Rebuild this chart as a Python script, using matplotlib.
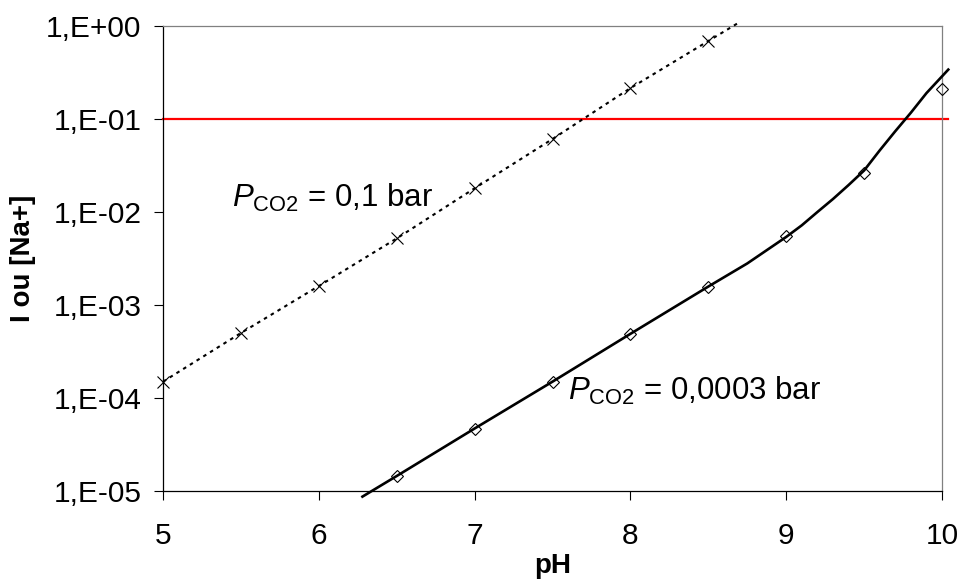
import numpy as np
import matplotlib
matplotlib.use('Agg')
import matplotlib.pyplot as plt
from matplotlib.ticker import FixedLocator, FixedFormatter

plt.rcParams['font.family'] = 'Liberation Sans'
plt.rcParams['mathtext.fontset'] = 'custom'
plt.rcParams['mathtext.rm'] = 'Liberation Sans'
plt.rcParams['mathtext.it'] = 'Liberation Sans:italic'

# measured points (markers)
ph_pts_01 = [5.0, 5.5, 6.0, 6.5, 7.0, 7.5, 8.0, 8.5]
na_pts_01 = [1.5e-4, 5.0e-4, 1.6e-3, 5.2e-3, 1.8e-2, 6.1e-2, 2.15e-1, 6.9e-1]

ph_pts_0003 = [6.5, 7.0, 7.5, 8.0, 8.5, 9.0, 9.5, 10.0]
na_pts_0003 = [1.45e-5, 4.7e-5, 1.5e-4, 4.9e-4, 1.56e-3, 5.5e-3, 2.6e-2, 2.1e-1]

# model curves
ph_curve_01 = [5.0, 5.5, 6.0, 6.5, 7.0, 7.5, 8.0, 8.5, 8.7]
na_curve_01 = [1.5e-4, 5.0e-4, 1.6e-3, 5.2e-3, 1.8e-2, 6.1e-2, 2.15e-1, 6.9e-1, 1.1]

ph_curve_0003 = [6.28, 6.5, 7.0, 7.5, 8.0, 8.5, 8.75, 9.0, 9.1, 9.2, 9.3, 9.4,
                 9.5, 9.6, 9.7, 9.8, 9.9, 10.04]
na_curve_0003 = [8.7e-6, 1.45e-5, 4.7e-5, 1.5e-4, 4.9e-4, 1.58e-3, 2.8e-3, 5.4e-3,
                 7.2e-3, 1.0e-2, 1.38e-2, 1.95e-2, 2.8e-2, 4.6e-2, 7.4e-2, 1.17e-1,
                 1.9e-1, 3.4e-1]

limit_value = 0.1

x_ticks = [5, 6, 7, 8, 9, 10]
y_ticks = [1e-5, 1e-4, 1e-3, 1e-2, 1e-1, 1e0]
y_tick_labels = ['1,E-05', '1,E-04', '1,E-03', '1,E-02', '1,E-01', '1,E+00']

fig = plt.figure(figsize=(9.6, 5.81), dpi=100)
ax = fig.add_axes([0.1698, 0.1549, 0.8115, 0.8003])

ax.set_yscale('log')
ax.set_xlim(5, 10)
ax.set_ylim(1e-5, 1)

ax.plot([5, 10.04], [limit_value, limit_value], color='#ff0000', lw=1.6, clip_on=False, zorder=2)

ax.plot(ph_curve_01, na_curve_01, color='black', lw=1.5, linestyle=(0, (1.7, 2.1)),
        clip_on=False, zorder=3)
ax.plot(ph_curve_0003, na_curve_0003, color='black', lw=1.9, clip_on=False, zorder=3)

ax.plot(ph_pts_01, na_pts_01, linestyle='none', marker='x', ms=8.5, mew=0.8,
        color='black', clip_on=False, zorder=4)
ax.plot(ph_pts_0003, na_pts_0003, linestyle='none', marker='D', ms=6, mew=0.8,
        mfc='none', mec='black', clip_on=False, zorder=4)

ax.text(5.443, 0.0113, r'$P_{\mathrm{CO2}}$ = 0,1 bar', fontsize=22.5, va='baseline', ha='left')
ax.text(7.60, 9.5e-5, r'$P_{\mathrm{CO2}}$ = 0,0003 bar', fontsize=22.5, va='baseline', ha='left')

ax.xaxis.set_major_locator(FixedLocator(x_ticks))
ax.yaxis.set_major_locator(FixedLocator(y_ticks))
ax.yaxis.set_major_formatter(FixedFormatter(y_tick_labels))
ax.yaxis.set_minor_locator(FixedLocator([]))

ax.tick_params(axis='both', direction='out', length=6.5, width=0.8, color='black', labelsize=21.5)
ax.tick_params(axis='x', pad=16)
ax.tick_params(axis='y', pad=9)

for s in ['left', 'bottom']:
    ax.spines[s].set_color('black')
    ax.spines[s].set_linewidth(0.9)
for s in ['top', 'right']:
    ax.spines[s].set_color('#808080')
    ax.spines[s].set_linewidth(0.9)

ax.set_xlabel('pH', fontsize=20, fontweight='bold')
ax.set_ylabel('I ou [Na+]', fontsize=20, fontweight='bold')
ax.xaxis.set_label_coords(0.5, -0.133)
ax.yaxis.set_label_coords(-0.163, 0.5)

fig.savefig('out.png', dpi=100)
